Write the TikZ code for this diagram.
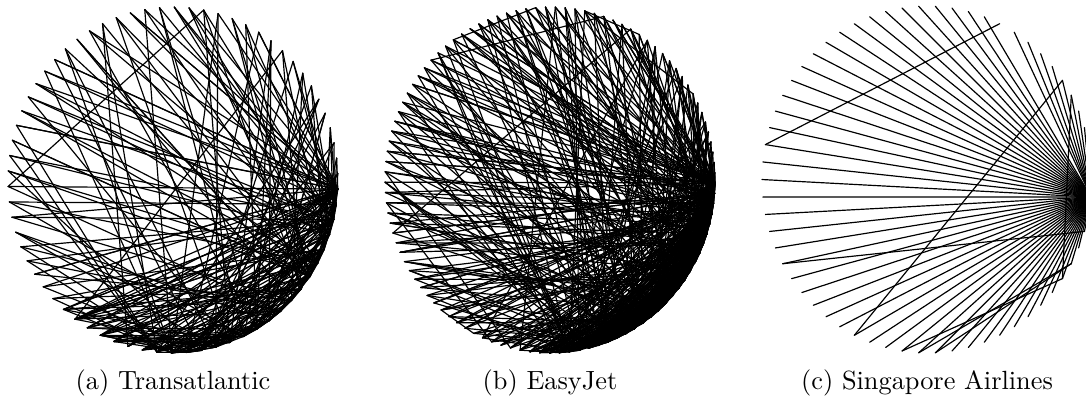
\documentclass[tikz,border=0pt]{standalone}
\usepackage{tikz}

\tikzset{chord/.style={line width=0.45pt, black, line cap=round}}

\begin{document}
\begin{tikzpicture}[x=0.38pt, y=-0.38pt]
        \useasboundingbox (0,0) rectangle (1086,403);
        \clip (0,0) rectangle (1086,403);
        \pgfmathsetseed{2718}

        % Nodes (airports on the circles)
        \foreach \i in {0,...,69}{
            \pgfmathsetmacro\ang{-3-\i*(360/70)}
            \coordinate (a\i) at ({173+165*cos(\ang)},{180-173*sin(\ang)});
        }
        \foreach \i in {0,...,104}{
            \pgfmathsetmacro\ang{-1-\i*(360/105)}
            \coordinate (b\i) at ({550+165*cos(\ang)},{180-173*sin(\ang)});
        }
        \foreach \i in {0,...,61}{
            \pgfmathsetmacro\ang{-5.8+\i*(360/62)}
            \coordinate (c\i) at ({927+165*cos(\ang)},{179.5-173.5*sin(\ang)});
        }

        % Routes: Transatlantic (hubs a0..a17)
        \foreach \i in {0,...,17}{
            \foreach \k in {1,...,7}{
                \pgfmathtruncatemacro\j{min(69,26*rnd)}
                \ifnum\j=\i\else\draw[chord] (a\i) -- (a\j);\fi
            }
        }
        \foreach \i in {18,...,69}{
            \foreach \k in {1,2,3}{
                \pgfmathtruncatemacro\j{rnd<0.06 ? min(69,70*rnd) : 19*rnd^1.5}
                \ifnum\j=\i\else\draw[chord] (a\i) -- (a\j);\fi
            }
        }

        % Routes: EasyJet (hubs b0..b23)
        \foreach \i in {0,...,23}{
            \foreach \k in {1,...,13}{
                \pgfmathtruncatemacro\j{min(104,30*rnd^1.3)}
                \ifnum\j=\i\else\draw[chord] (b\i) -- (b\j);\fi
            }
        }
        \foreach \i in {24,...,104}{
            \foreach \k in {1,...,4}{
                \pgfmathtruncatemacro\j{rnd<0.05 ? min(104,105*rnd) : 26*rnd^1.8}
                \ifnum\j=\i\else\draw[chord] (b\i) -- (b\j);\fi
            }
        }

        % Routes: Singapore Airlines (hub and spokes)
        \foreach \i in {1,...,11,13,14,...,61}{
            \draw[chord] (c0) -- (c\i);
        }
        \draw[chord] (c30) -- (c12);
        \draw[chord] (c43) -- (c7);
        \draw[chord] (c37) -- (c60);
        \draw[chord] (c6) -- (c57);
        \draw[chord] (c46) -- (c57);
        \draw[chord] (c47) -- (c58);
        \draw[chord] (c48) -- (c58);

        % Captions
        \node[anchor=base] (capA) at (173,389) {(a)\ Transatlantic};
        \node[anchor=base] (capB) at (550,389) {(b)\ EasyJet};
        \node[anchor=base] (capC) at (927,389) {(c)\ Singapore Airlines};
    \end{tikzpicture}
\end{document}
